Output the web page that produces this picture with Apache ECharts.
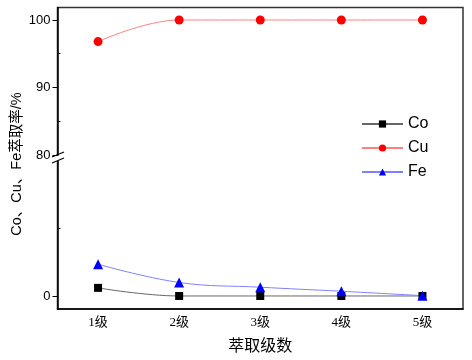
<!DOCTYPE html>
<html>
<head>
<meta charset="utf-8">
<script src="https://cdn.jsdelivr.net/npm/echarts@6/dist/echarts.min.js"></script>
<style>
  html, body { margin: 0; padding: 0; background: #fff; }
  #chart { width: 472px; height: 360px; }
</style>
</head>
<body>
<div id="chart"></div>
<script>
// 萃取级数 - 各金属萃取率
const categories = ['1级', '2级', '3级', '4级', '5级'];
const coValues = [1.2, 0, 0, 0, 0];
const cuValues = [96.8, 100, 100, 100, 100];
const feValues = [4.7, 2.0, 1.3, 0.7, 0.05];
const upperTicks = [80, 90, 100];
const upperMinorTicks = [85, 95];
const lowerTicks = [0];
const lowerMinorTicks = [10];

const latin = '"Liberation Sans", Arial, "Noto Sans CJK SC", sans-serif';
const serif = '"Liberation Serif", "Times New Roman", "Noto Sans CJK SC", serif';

const chart = echarts.init(document.getElementById('chart'));

const option = {
  animation: false,
  grid: [
    // 上半段 80-100
    { left: 57.5, right: 9, top: 7.5, height: 147.5 },
    // 下半段 0 附近
    { left: 57.5, right: 9, top: 160, bottom: 51 },
    // 外框
    { left: 57.5, right: 9, top: 7.5, bottom: 51, show: true, borderColor: '#333', borderWidth: 1.5 }
  ],
  legend: {
    orient: 'vertical',
    left: 361,
    top: 116,
    padding: 0,
    itemWidth: 41,
    itemHeight: 9,
    itemGap: 8,
    data: ['Co', 'Cu', 'Fe'],
    textStyle: { fontFamily: latin, fontSize: 16, color: '#000' }
  },
  xAxis: [
    { type: 'category', gridIndex: 0, data: categories, show: false },
    {
      type: 'category', gridIndex: 1, data: categories, position: 'bottom',
      axisLine: { onZero: false, lineStyle: { color: '#000', width: 1.5 } },
      axisTick: { inside: true, alignWithLabel: true, length: 6, lineStyle: { color: '#000' } },
      axisLabel: { fontFamily: serif, fontSize: 13, color: '#000', margin: 7 },
      name: '萃取级数',
      nameLocation: 'middle',
      nameGap: 30,
      nameTextStyle: { fontFamily: serif, fontSize: 16, color: '#000' }
    },
    {
      type: 'category', gridIndex: 1, data: categories, position: 'bottom',
      axisLine: { show: false, onZero: false },
      axisTick: { inside: true, length: 3, lineStyle: { color: '#000' } },
      axisLabel: { show: false }
    },
    { type: 'category', gridIndex: 2, data: categories, show: false }
  ],
  yAxis: [
    {
      type: 'value', gridIndex: 0, min: 80, max: 101.85, position: 'left',
      splitLine: { show: false },
      axisLine: { show: true, lineStyle: { color: '#000', width: 1.5 } },
      axisTick: { show: true, length: 5, customValues: upperTicks, lineStyle: { color: '#000' } },
      axisLabel: { customValues: upperTicks, fontFamily: latin, fontSize: 13, color: '#000', margin: 7 }
    },
    {
      type: 'value', gridIndex: 0, min: 80, max: 101.85, position: 'left',
      splitLine: { show: false },
      axisLine: { show: false },
      axisTick: { show: true, inside: true, length: 3, customValues: upperMinorTicks, lineStyle: { color: '#000' } },
      axisLabel: { show: false }
    },
    {
      type: 'value', gridIndex: 1, min: -1.93, max: 20.15, position: 'left',
      splitLine: { show: false },
      axisLine: { show: true, lineStyle: { color: '#000', width: 1.5 } },
      axisTick: { show: true, length: 5, customValues: lowerTicks, lineStyle: { color: '#000' } },
      axisLabel: { customValues: lowerTicks, fontFamily: latin, fontSize: 13, color: '#000', margin: 7 }
    },
    {
      type: 'value', gridIndex: 1, min: -1.93, max: 20.15, position: 'left',
      splitLine: { show: false },
      axisLine: { show: false },
      axisTick: { show: true, inside: true, length: 3, customValues: lowerMinorTicks, lineStyle: { color: '#000' } },
      axisLabel: { show: false }
    },
    { type: 'value', gridIndex: 2, show: false }
  ],
  graphic: [
    // 断轴标记
    { type: 'rect', z: 100, shape: { x: 55, y: 156, width: 6, height: 5 }, style: { fill: '#fff' } },
    { type: 'line', z: 101, shape: { x1: 52, y1: 157, x2: 64, y2: 152 }, style: { stroke: '#000', lineWidth: 1.2 } },
    { type: 'line', z: 101, shape: { x1: 52, y1: 163, x2: 64, y2: 158 }, style: { stroke: '#000', lineWidth: 1.2 } },
    {
      type: 'text', z: 100, x: 17, y: 164, rotation: Math.PI / 2,
      style: {
        text: 'Co、Cu、Fe萃取率/%',
        font: '14.5px ' + latin,
        fill: '#000',
        textAlign: 'center',
        textVerticalAlign: 'middle'
      }
    }
  ],
  series: [
    {
      name: 'Co', type: 'line', xAxisIndex: 1, yAxisIndex: 2,
      data: coValues, smooth: 0.4,
      symbol: 'rect', symbolSize: 8,
      lineStyle: { color: '#666', width: 1 },
      itemStyle: { color: '#000' }
    },
    {
      name: 'Cu', type: 'line', xAxisIndex: 0, yAxisIndex: 0,
      data: cuValues, smooth: 0.4,
      symbol: 'circle', symbolSize: 9,
      lineStyle: { color: '#ff8080', width: 1 },
      itemStyle: { color: '#ff0000' }
    },
    {
      name: 'Fe', type: 'line', xAxisIndex: 1, yAxisIndex: 2,
      data: feValues, smooth: 0.4,
      symbol: 'triangle', symbolSize: 10,
      lineStyle: { color: '#8080ff', width: 1 },
      itemStyle: { color: '#0000ff' }
    }
  ]
};

chart.setOption(option);
</script>
</body>
</html>
